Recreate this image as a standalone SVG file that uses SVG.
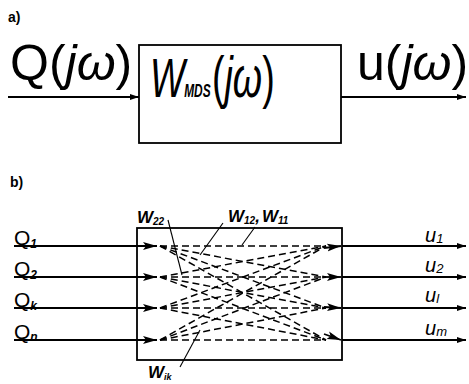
<svg xmlns="http://www.w3.org/2000/svg" width="469" height="384" viewBox="0 0 469 384">
<style>
text{font-family:"Liberation Sans",Arial,sans-serif;fill:#000}
.ln{stroke:#000;stroke-width:1.8;fill:none}
.box{stroke:#000;stroke-width:1.8;fill:#fff}
.dash{stroke:#000;stroke-width:1.5;stroke-dasharray:7 4;fill:none}
.lead{stroke:#000;stroke-width:1.1;fill:none}
.it{font-style:italic}
.sb{font-style:italic;font-weight:bold}
</style>
<defs>
<marker id="ah" markerUnits="userSpaceOnUse" markerWidth="16" markerHeight="10" refX="14" refY="5" orient="auto">
<path d="M0,1 L14,5 L0,9 L3,5 Z" fill="#000"/>
</marker>
<marker id="as" markerUnits="userSpaceOnUse" markerWidth="10" markerHeight="8" refX="9" refY="4" orient="auto">
<path d="M0,1 L9,4 L0,7 Z" fill="#000"/>
</marker>
</defs>

<text x="8" y="22" font-size="14" font-weight="bold">a)</text>
<text x="10" y="187" font-size="14" font-weight="bold">b)</text>

<g id="boxA">
<rect class="box" x="139" y="45" width="202" height="98"/>
<text transform="translate(150,97) scale(0.66,1)" x="0" y="0" font-size="56"><tspan class="it">W</tspan><tspan class="sb" font-size="18" dx="-1">MDS</tspan><tspan font-size="57" dx="2">(<tspan class="it">jω</tspan>)</tspan></text>
</g>
<g id="inA">
<text x="10" y="80" font-size="50">Q(<tspan class="it">jω</tspan>)</text>
</g>
<g id="outA">
<text x="357" y="80" font-size="50">u(<tspan class="it">jω</tspan>)</text>
</g>

<g id="boxB">
<rect class="box" x="137" y="228" width="205" height="132"/>
</g>

<g id="inputs">
<text x="14" y="245" font-size="21">Q<tspan font-size="12" class="sb" dy="3">1</tspan></text>
<text x="14" y="276" font-size="21">Q<tspan font-size="12" class="sb" dy="3">2</tspan></text>
<text x="14" y="307" font-size="21">Q<tspan font-size="12" class="sb" dy="3">k</tspan></text>
<text x="14" y="339" font-size="21">Q<tspan font-size="12" class="sb" dy="2">n</tspan></text>
</g>
<g id="outputs">
<text x="425" y="242" font-size="20" class="it">u<tspan font-size="13" dy="1">1</tspan></text>
<text x="425" y="272" font-size="20" class="it">u<tspan font-size="13" dy="1">2</tspan></text>
<text x="425" y="302" font-size="20" class="it">u<tspan font-size="13" dy="1">l</tspan></text>
<text x="425" y="335" font-size="20" class="it">u<tspan font-size="13" dy="1">m</tspan></text>
</g>
<g id="wlabels">
<text x="137" y="223" font-size="17" class="sb">W<tspan font-size="10" dy="2">22</tspan></text>
<text x="228" y="222" font-size="17" class="sb">W<tspan font-size="10" dy="2">12</tspan><tspan dy="-2">,</tspan><tspan dx="2">W</tspan><tspan font-size="10" dy="2">11</tspan></text>
<text x="148" y="378" font-size="17" class="sb">W<tspan font-size="9" dy="2">ik</tspan></text>
</g>

<g id="connectors">
<line class="ln" x1="8" y1="97" x2="139" y2="97" marker-end="url(#as)"/>
<line class="ln" x1="341" y1="97" x2="466" y2="97" marker-end="url(#as)"/>

<line class="ln" x1="14" y1="246" x2="157" y2="246" marker-end="url(#ah)"/>
<line class="ln" x1="14" y1="277" x2="157" y2="277" marker-end="url(#ah)"/>
<line class="ln" x1="14" y1="308" x2="157" y2="308" marker-end="url(#ah)"/>
<line class="ln" x1="14" y1="340" x2="157" y2="340" marker-end="url(#ah)"/>

<line class="ln" x1="342" y1="246" x2="466" y2="246" marker-end="url(#as)"/>
<line class="ln" x1="342" y1="277" x2="466" y2="277" marker-end="url(#as)"/>
<line class="ln" x1="342" y1="308" x2="466" y2="308" marker-end="url(#as)"/>
<line class="ln" x1="342" y1="340" x2="466" y2="340" marker-end="url(#as)"/>

<g class="dash">
<line x1="160" y1="246" x2="326" y2="246"/>
<line x1="160" y1="246" x2="326" y2="277"/>
<line x1="160" y1="246" x2="326" y2="308"/>
<line x1="160" y1="246" x2="326" y2="340"/>
<line x1="160" y1="277" x2="326" y2="246"/>
<line x1="160" y1="277" x2="326" y2="277"/>
<line x1="160" y1="277" x2="326" y2="308"/>
<line x1="160" y1="277" x2="326" y2="340"/>
<line x1="160" y1="308" x2="326" y2="246"/>
<line x1="160" y1="308" x2="326" y2="277"/>
<line x1="160" y1="308" x2="326" y2="308"/>
<line x1="160" y1="308" x2="326" y2="340"/>
<line x1="160" y1="340" x2="326" y2="246"/>
<line x1="160" y1="340" x2="326" y2="277"/>
<line x1="160" y1="340" x2="326" y2="308"/>
<line x1="160" y1="340" x2="326" y2="340"/>
</g>
<line class="ln" x1="324" y1="248" x2="341" y2="246" marker-end="url(#ah)"/>
<line class="ln" x1="324" y1="277" x2="341" y2="277" marker-end="url(#ah)"/>
<line class="ln" x1="324" y1="307" x2="341" y2="308" marker-end="url(#ah)"/>
<line class="ln" x1="324" y1="334" x2="341" y2="340" marker-end="url(#ah)"/>

<line class="lead" x1="168" y1="220" x2="182" y2="275"/>
<line class="lead" x1="223" y1="223" x2="200" y2="255"/>
<line class="lead" x1="255" y1="227" x2="242" y2="245"/>
<line class="lead" x1="180" y1="367" x2="200" y2="330"/>
</g>
</svg>
